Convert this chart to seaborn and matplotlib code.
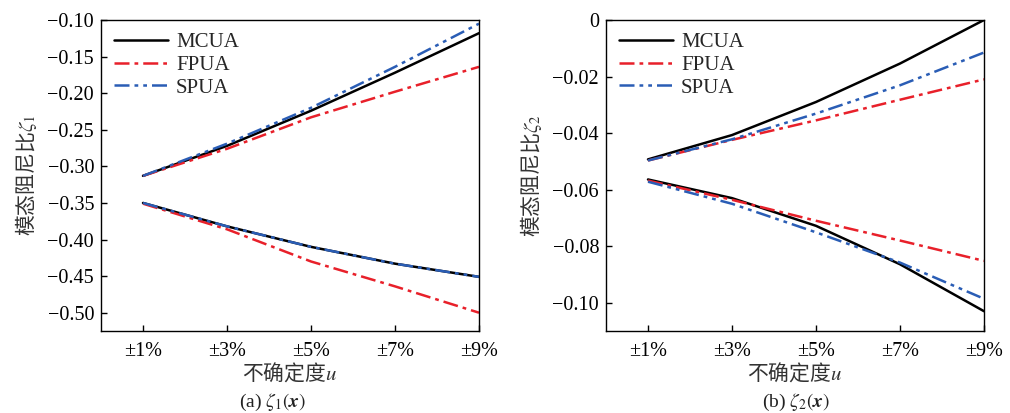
import numpy as np
import pandas as pd
import matplotlib
matplotlib.use("Agg")
import matplotlib.pyplot as plt
import seaborn as sns

sns.set_style("ticks")
plt.rcParams['font.family'] = ['Liberation Serif', 'Noto Sans CJK SC']
plt.rcParams['mathtext.fontset'] = 'stix'

# uncertainty levels (%)
u = [1, 3, 5, 7, 9]
u_labels = ['±1%', '±3%', '±5%', '±7%', '±9%']

# (a) zeta_1, upper and lower branches
z1_mcua_up = [-0.313, -0.272, -0.224, -0.172, -0.118]
z1_fpua_up = [-0.313, -0.276, -0.233, -0.198, -0.164]
z1_spua_up = [-0.313, -0.269, -0.220, -0.164, -0.105]
z1_mcua_lo = [-0.350, -0.382, -0.410, -0.433, -0.451]
z1_fpua_lo = [-0.351, -0.386, -0.430, -0.464, -0.500]
z1_spua_lo = [-0.350, -0.382, -0.410, -0.433, -0.451]

# (b) zeta_2, upper and lower branches
z2_mcua_up = [-0.0493, -0.0407, -0.0290, -0.0154, 0.0000]
z2_fpua_up = [-0.0497, -0.0424, -0.0355, -0.0282, -0.0210]
z2_spua_up = [-0.0497, -0.0422, -0.0331, -0.0231, -0.0115]
z2_mcua_lo = [-0.0564, -0.0630, -0.0728, -0.0864, -0.1030]
z2_fpua_lo = [-0.0568, -0.0636, -0.0710, -0.0780, -0.0852]
z2_spua_lo = [-0.0572, -0.0650, -0.0751, -0.0858, -0.0986]

methods = ['MCUA', 'FPUA', 'SPUA']
colors = {'MCUA': 'black', 'FPUA': '#e8202a', 'SPUA': '#2a5db5'}
styles = {'MCUA': '-', 'FPUA': (0, (6, 2, 1.5, 2)), 'SPUA': (0, (6, 2, 1.5, 2, 1.5, 2))}

panels = [
    {'up': [z1_mcua_up, z1_fpua_up, z1_spua_up], 'lo': [z1_mcua_lo, z1_fpua_lo, z1_spua_lo],
     'ylim': (-0.525, -0.10), 'yticks': np.arange(-0.50, -0.099, 0.05),
     'ylabel': '模态阻尼比$\\zeta_1$', 'cap': '(a) $\\zeta_1(\\mathbfit{x})$', 'capx': 272},
    {'up': [z2_mcua_up, z2_fpua_up, z2_spua_up], 'lo': [z2_mcua_lo, z2_fpua_lo, z2_spua_lo],
     'ylim': (-0.11, 0.0), 'yticks': np.arange(-0.10, 0.001, 0.02),
     'ylabel': '模态阻尼比$\\zeta_2$', 'cap': '(b) $\\zeta_2(\\mathbfit{x})$', 'capx': 796},
]

fig = plt.figure(figsize=(10.10, 4.13), dpi=100)
lefts = [101, 606]
cjk = 'Noto Sans CJK SC'

for p, left in zip(panels, lefts):
    ax = fig.add_axes([left / 1010, (413 - 331) / 413, 378 / 1010, 311 / 413])
    for i, m in enumerate(methods):
        for branch in ['up', 'lo']:
            sns.lineplot(x=u, y=p[branch][i], ax=ax, color=colors[m], linestyle=styles[m],
                         linewidth=1.8, label=m if branch == 'up' else None)
    ax.set_xlim(0, 9)
    ax.set_ylim(*p['ylim'])
    ax.set_xticks(u)
    ax.set_xticklabels(u_labels)
    ax.set_yticks(p['yticks'])
    ylabs = []
    for v in p['yticks']:
        if abs(v) < 1e-9:
            ylabs.append('0')
        else:
            ylabs.append('{:.2f}'.format(v).replace('-', '\u2212'))
    ax.set_yticklabels(ylabs)
    ax.tick_params(direction='in', length=4, width=1, labelsize=14.5, colors='black', pad=5)
    ax.tick_params(axis='x', pad=8)
    for s in ax.spines.values():
        s.set_visible(True)
        s.set_linewidth(1.0)
        s.set_color('black')
    ax.set_ylabel(p['ylabel'], fontsize=15, color='#333333', labelpad=6, family=cjk)
    ax.set_xlabel('不确定度$u$', fontsize=15, color='#333333', labelpad=0, family=cjk)
    # caption under the axis label
    fig.text(p['capx'] / 1010, 1 - 402 / 413, p['cap'], ha='center', va='center',
             fontsize=14, color='#222222')
    ax.legend(loc='upper left', frameon=False, fontsize=15, handlelength=2.6,
              handletextpad=0.4, labelspacing=0.15, borderaxespad=0.2)

fig.savefig('out.png', dpi=100)
